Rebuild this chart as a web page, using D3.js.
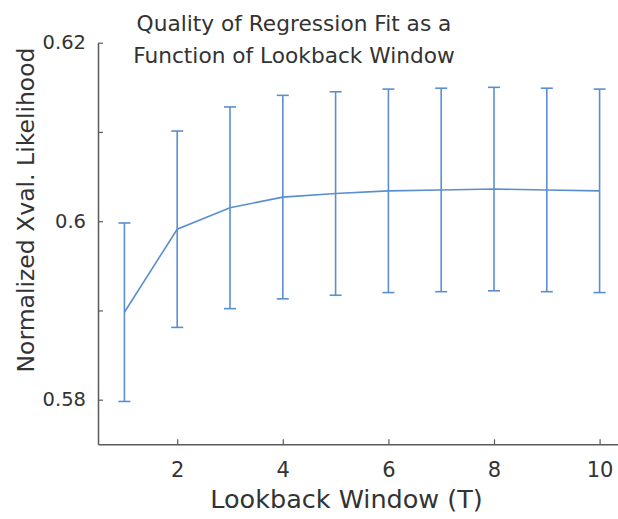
<!DOCTYPE html>
<html><head><meta charset="utf-8">
<script src="https://cdn.jsdelivr.net/npm/d3@7"></script>
<style>body{margin:0;background:#fff}svg{display:block}text{font-family:"DejaVu Sans",sans-serif;fill:#333}</style>
</head><body>
<svg id="c" width="618" height="519"></svg>
<script>
const windows = [1,2,3,4,5,6,7,8,9,10];
const meanLik = [0.5898,0.5991,0.6015,0.6027,0.6031,0.6034,0.6035,0.6036,0.6035,0.6034];
const errLik  = [0.0100,0.0110,0.0113,0.0114,0.0114,0.0114,0.0114,0.0114,0.0114,0.0114];
const xTicks = [2,4,6,8,10];
const yTicks = [0.58,0.59,0.60,0.61,0.62];
const yTickLabels = {0.58:"0.58",0.6:"0.6",0.62:"0.62"};
const titleLines = ["Quality of Regression Fit as a","Function of Lookback Window"];
const xLabel = "Lookback Window (T)";
const yLabel = "Normalized Xval. Likelihood";

const svg = d3.select("#c");
const L=98, T=42.7, B=444.3, R=626;
const x = d3.scaleLinear().domain([0.5,10.5]).range([L,R]);
const y = d3.scaleLinear().domain([0.575,0.62]).range([B,T]);
const axCol = "#5a5a5a", blue = "#5b8ed0";

const xa = svg.append("g").attr("transform",`translate(0,${B})`)
  .call(d3.axisBottom(x).tickValues(xTicks).tickSizeInner(-5).tickSizeOuter(0).tickPadding(18).tickFormat(d3.format("d")));
const ya = svg.append("g").attr("transform",`translate(${L},0)`)
  .call(d3.axisLeft(y).tickValues(yTicks).tickSizeInner(-5).tickSizeOuter(0).tickPadding(12)
    .tickFormat(d => yTickLabels[Math.round(d*100)/100] || ""));
[xa,ya].forEach(g=>{
  g.selectAll("path.domain").attr("stroke",axCol).attr("stroke-width",1.5);
  g.selectAll(".tick line").attr("stroke",axCol).attr("stroke-width",1.2);
  g.selectAll(".tick text").attr("fill","#333").attr("font-family","DejaVu Sans");
});
ya.selectAll(".tick text").attr("font-size",19.5);
xa.selectAll(".tick text").attr("font-size",21);

const data = windows.map((w,i)=>({w, m:meanLik[i], e:errLik[i]}));
const eb = svg.append("g").attr("stroke",blue).attr("stroke-width",1.6).attr("fill","none");
data.forEach(d=>{
  eb.append("line").attr("x1",x(d.w)).attr("x2",x(d.w)).attr("y1",y(d.m-d.e)).attr("y2",y(d.m+d.e));
  eb.append("line").attr("x1",x(d.w)-6).attr("x2",x(d.w)+6).attr("y1",y(d.m-d.e)).attr("y2",y(d.m-d.e));
  eb.append("line").attr("x1",x(d.w)-6).attr("x2",x(d.w)+6).attr("y1",y(d.m+d.e)).attr("y2",y(d.m+d.e));
});
svg.append("path").datum(data).attr("fill","none").attr("stroke",blue).attr("stroke-width",1.6)
  .attr("d",d3.line().x(d=>x(d.w)).y(d=>y(d.m)));

svg.selectAll("text.title").data(titleLines).enter().append("text")
  .attr("x",294).attr("y",(d,i)=>31+i*32).attr("text-anchor","middle").attr("font-size",21.7).text(d=>d);
svg.append("text").attr("x",346.5).attr("y",508).attr("text-anchor","middle").attr("font-size",25.5).text(xLabel);
svg.append("text").attr("transform","translate(34,210) rotate(-90)").attr("text-anchor","middle").attr("font-size",23.5).text(yLabel);
</script>
</body></html>
